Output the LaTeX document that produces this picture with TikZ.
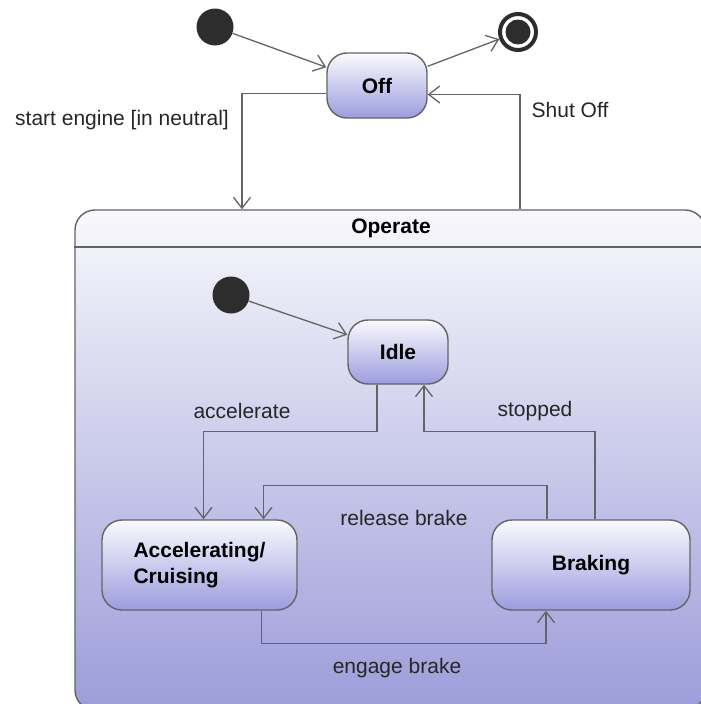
\documentclass[tikz,border=0pt]{standalone}
\usepackage{fontspec}
\setmainfont{Liberation Sans}
\usepackage{tikz}
\usetikzlibrary{arrows.meta,positioning,calc}
\definecolor{lineGray}{RGB}{100,100,100}
\definecolor{stTop}{RGB}{250,250,254}
\definecolor{stBot}{RGB}{156,156,222}
\definecolor{opTop}{RGB}{248,248,252}
\definecolor{opBot}{RGB}{156,156,218}
\definecolor{dotGray}{RGB}{45,45,45}

\begin{document}
\begin{tikzpicture}[x=1pt,y=-1pt,
    font=\fontsize{21}{25}\selectfont,
    stbox/.style={rectangle,rounded corners=20pt,draw=lineGray,line width=1.4pt,
      top color=stTop,bottom color=stBot,inner sep=0pt,
      font=\fontsize{21}{26}\selectfont\bfseries},
    tr/.style={draw=lineGray,line width=1.3pt,-{Straight Barb[length=11pt,width=17pt]}},
    lbl/.style={text=black!85,inner sep=0pt},
    initdot/.style={circle,fill=dotGray,minimum size=37pt,inner sep=0pt}]
        \useasboundingbox (0,0) rectangle (701,704);
        % composite state
        \node[rectangle,rounded corners=20pt,draw=lineGray,line width=1.4pt,top color=opTop,bottom color=opBot,
              minimum width=630pt,minimum height=500pt] (operate) at (390,460) {};
        \draw[draw=lineGray,line width=1.4pt] (operate.west |- 0,247) -- (operate.east |- 0,247);
        \node[font=\fontsize{21}{25}\selectfont\bfseries] (optitle) at (391,228) {Operate};
        % outer states
        \node[initdot] (init1) at (215,27) {};
        \node[stbox,minimum width=100pt,minimum height=65pt] (off) at (377,85.5) {Off};
        \node[circle,draw=dotGray,line width=4pt,fill=white,minimum size=36pt,inner sep=0pt] (final) at (518,32) {};
        \node[circle,fill=dotGray,minimum size=25pt,inner sep=0pt] (finaldot) at (final) {};
        % inner states
        \node[initdot] (init2) at (231,295) {};
        \node[stbox,minimum width=100pt,minimum height=64pt] (idle) at (398,352) {Idle};
        \node[stbox,minimum width=195pt,minimum height=90pt,align=left] (accel) at (199.5,565) {Accelerating/\\Cruising};
        \node[stbox,minimum width=198pt,minimum height=90pt] (braking) at (591,565) {Braking};
        % transitions
        \draw[tr] (init1) -- (off);
        \draw[tr] (off) -- (final);
        \draw[tr] ([yshift=-8pt]off.west) -| (242,0 |- operate.north);
        \draw[tr] (520,0 |- operate.north) |- ([yshift=-9pt]off.east);
        \draw[tr] (init2) -- (idle);
        \draw[tr] ([xshift=-21pt]idle.south) -- ++(0,47) -| ([xshift=4pt]accel.north);
        \draw[tr] ([xshift=4pt]braking.north) -- ++(0,-88) -| ([xshift=26pt]idle.south);
        \draw[tr] ([xshift=-44pt]braking.north) -- ++(0,-34) -| ([xshift=64pt]accel.north);
        \draw[tr] ([xshift=62pt]accel.south) -- ++(0,33) -| ([xshift=-45pt]braking.south);
        % labels
        \node[lbl] (lstart) at (122,120) {start engine [in neutral]};
        \node[lbl] (lshut) at (570,110) {Shut Off};
        \node[lbl] (lacc) at (242,411) {accelerate};
        \node[lbl] (lstop) at (535,411) {stopped};
        \node[lbl] (lrel) at (404,518) {release brake};
        \node[lbl] (leng) at (397,668) {engage brake};
      \end{tikzpicture}
\end{document}
